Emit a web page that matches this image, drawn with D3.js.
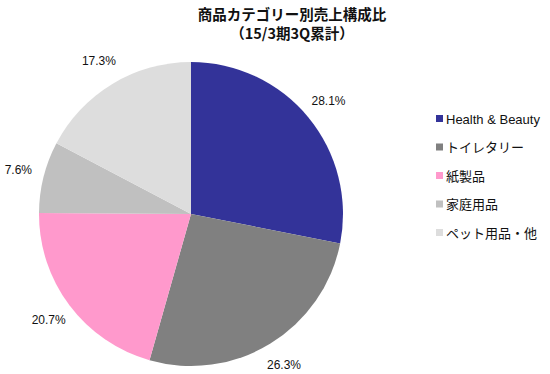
<!DOCTYPE html>
<html><head><meta charset="utf-8">
<script src="https://cdn.jsdelivr.net/npm/d3@7"></script>
<style>body{margin:0;background:#fff;}svg{display:block;}</style>
</head><body>
<svg id="c" width="550" height="374"></svg>
<script>
const titleLines = ["商品カテゴリー別売上構成比", "（15/3期3Q累計）"];
const categories = ["Health & Beauty", "トイレタリー", "紙製品", "家庭用品", "ペット用品・他"];
const values = [28.1, 26.3, 20.7, 7.6, 17.3];
const colors = ["#333399", "#808080", "#FF99CC", "#C0C0C0", "#DDDDDD"];

const svg = d3.select("#c");
const font = "'Liberation Sans', Arial, 'Noto Sans CJK JP', sans-serif";
const cx = 191, cy = 214, r = 152, lr = 178;

const data = categories.map((c, i) => ({c, v: values[i], col: colors[i]}));
const pie = d3.pie().value(d => d.v).sort(null);
const arcs = pie(data);
const arc = d3.arc().innerRadius(0).outerRadius(r);
const labelArc = d3.arc().innerRadius(lr).outerRadius(lr);

const g = svg.append("g").attr("transform", `translate(${cx},${cy})`);
g.selectAll("path").data(arcs).join("path")
  .attr("d", arc).attr("fill", d => d.data.col);

g.selectAll("text").data(arcs).join("text")
  .attr("transform", d => `translate(${labelArc.centroid(d)})`)
  .attr("text-anchor", "middle").attr("dy", "0.3em")
  .attr("font-family", font).attr("font-size", 12).attr("fill", "#111")
  .text(d => d.data.v.toFixed(1) + "%");

svg.selectAll("text.title").data(titleLines).join("text")
  .attr("class", "title")
  .attr("x", 292).attr("y", (d, i) => 20 + i * 19)
  .attr("text-anchor", "middle")
  .attr("font-family", "'Noto Sans CJK JP', sans-serif")
  .attr("font-weight", "bold").attr("font-size", 14.5).attr("fill", "#111")
  .text(d => d);

const yLeg = d3.scalePoint().domain(categories).range([119, 233]);
const leg = svg.append("g").selectAll("g").data(data).join("g")
  .attr("transform", d => `translate(436,${yLeg(d.c)})`);
leg.append("rect").attr("x", 0).attr("y", -4).attr("width", 7).attr("height", 7)
  .attr("fill", d => d.col);
leg.append("text").attr("x", 10).attr("y", 0).attr("dy", "0.35em")
  .attr("font-family", font).attr("font-size", 13).attr("fill", "#111")
  .text(d => d.c);
</script>
</body></html>
